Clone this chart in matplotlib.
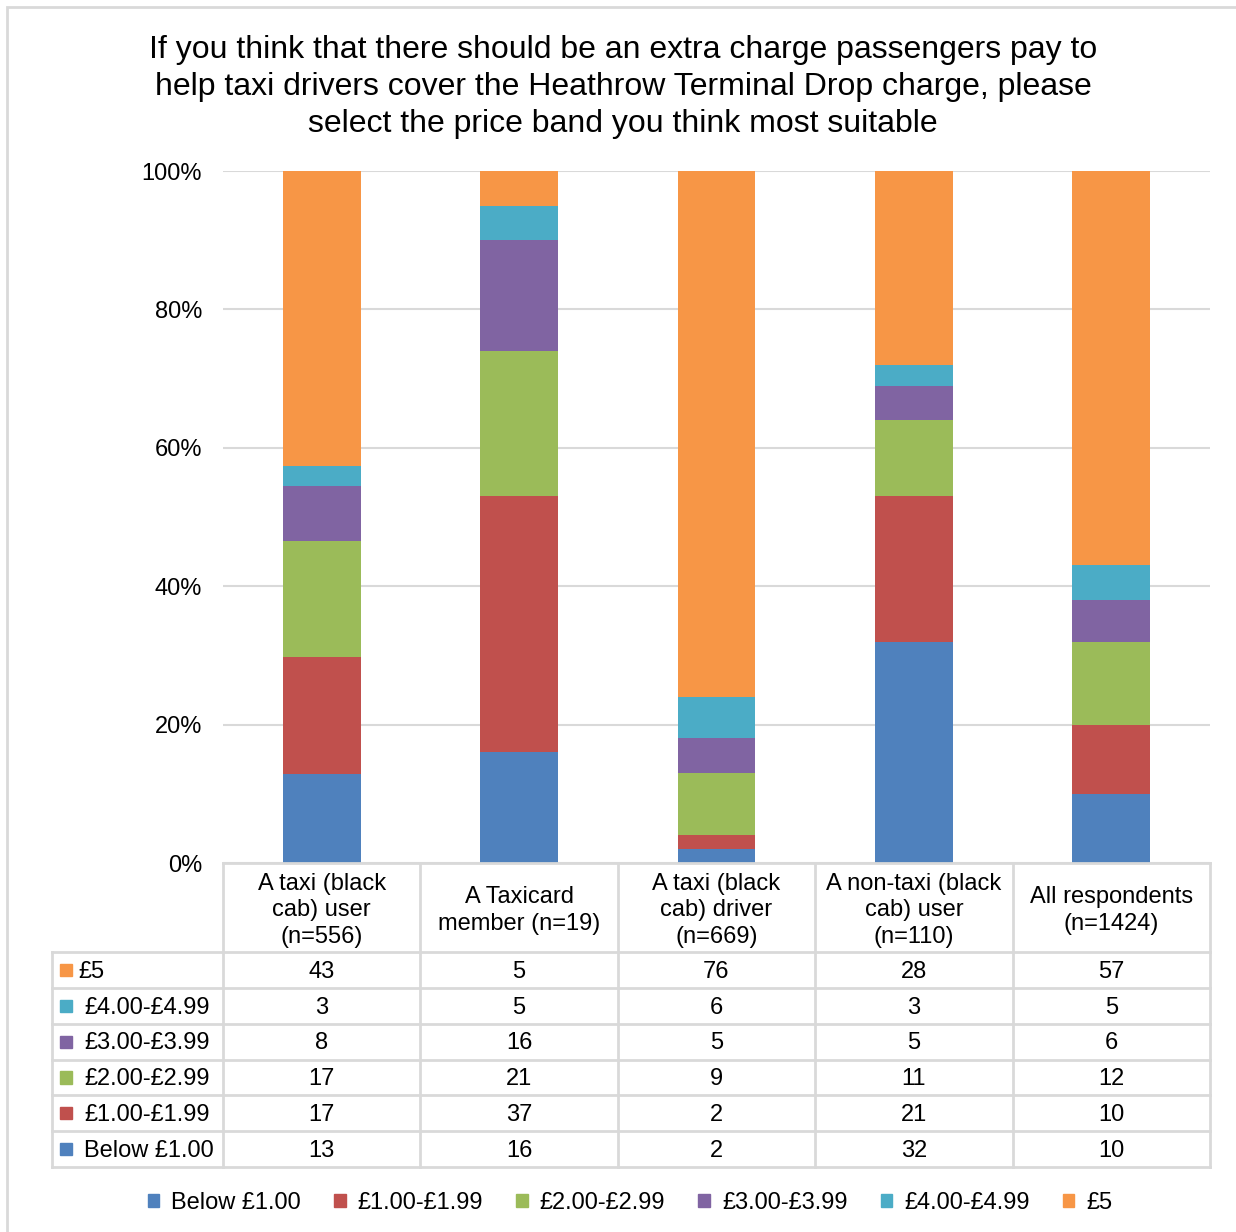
import matplotlib.pyplot as plt
from matplotlib.patches import Patch, Rectangle

plt.rcParams['font.family'] = ['Liberation Sans', 'DejaVu Sans']

# chart data (percent of respondents)
groups = ["A taxi (black\ncab) user\n(n=556)", "A Taxicard\nmember (n=19)",
          "A taxi (black\ncab) driver\n(n=669)", "A non-taxi (black\ncab) user\n(n=110)",
          "All respondents\n(n=1424)"]
bands = ["Below £1.00", "£1.00-£1.99", "£2.00-£2.99", "£3.00-£3.99", "£4.00-£4.99", "£5"]
below_1 = [13, 16, 2, 32, 10]
from_1 = [17, 37, 2, 21, 10]
from_2 = [17, 21, 9, 11, 12]
from_3 = [8, 16, 5, 5, 6]
from_4 = [3, 5, 6, 3, 5]
five = [43, 5, 76, 28, 57]
series = [below_1, from_1, from_2, from_3, from_4, five]
colors = ["#4F81BD", "#C0504D", "#9BBB59", "#8064A2", "#4BACC6", "#F79646"]
yticks = [0, 20, 40, 60, 80, 100]

W, H = 1236, 1232
fig = plt.figure(figsize=(W / 100, H / 100), dpi=100)


def box(x0, y0, x1, y1):
    # pixel box (top-left origin) -> figure rect
    return [x0 / W, 1 - y1 / H, (x1 - x0) / W, (y1 - y0) / H]


grid_c = "#D9D9D9"
fs = 17

# outer chart border
fig.patches.append(Rectangle((7 / W, -0.01), 1.2, 1 - 7 / H + 0.01, transform=fig.transFigure,
                             fill=False, edgecolor=grid_c, lw=2))

fig.text(623 / W, 1 - 87 / H,
         "If you think that there should be an extra charge passengers pay to\n"
         "help taxi drivers cover the Heathrow Terminal Drop charge, please\n"
         "select the price band you think most suitable",
         ha="center", va="center", fontsize=23, linespacing=1.3)

# bars
ax = fig.add_axes(box(223, 171, 1210, 863))
n = len(groups)
totals = [sum(s[i] for s in series) for i in range(n)]
bottom = [0.0] * n
for vals, c, lab in zip(series, colors, bands):
    pct = [v / t * 100 for v, t in zip(vals, totals)]
    ax.bar(range(n), pct, bottom=bottom, width=0.395, color=c, label=lab, zorder=2)
    bottom = [b + p for b, p in zip(bottom, pct)]

ax.set_xlim(-0.5, n - 0.5)
ax.set_ylim(0, 100)
ax.set_yticks(yticks)
ax.set_yticklabels([f"{t}%" for t in yticks], fontsize=fs)
ax.tick_params(axis="y", length=0, pad=15)
ax.set_xticks([])
ax.grid(axis="y", color=grid_c, lw=1.5, zorder=0)
for s in ax.spines.values():
    s.set_visible(False)

# data table
col_w = (1210 - 223) / n
lab_w = (223 - 52) / col_w
head_h = 89 / 35.8
tax = fig.add_axes(box(52, 863, 1210, 1167))
tax.set_xlim(-0.5 - lab_w, n - 0.5)
tax.set_ylim(head_h + len(bands), 0)
tax.axis("off")
lk = dict(color=grid_c, lw=2, solid_capstyle="projecting", clip_on=False)
tax.plot([-0.5, n - 0.5], [0, 0], **lk)
for k in range(len(bands) + 1):
    tax.plot([-0.5 - lab_w, n - 0.5], [head_h + k] * 2, **lk)
for j in range(n + 1):
    tax.plot([j - 0.5] * 2, [0, head_h + len(bands)], **lk)
tax.plot([-0.5 - lab_w] * 2, [head_h, head_h + len(bands)], **lk)

for j, g in enumerate(groups):
    tax.text(j, head_h / 2 + 0.08, g, ha="center", va="center", fontsize=fs, linespacing=1.28)

px = lab_w / 171  # data units per pixel in x
for r, k in enumerate(range(len(bands) - 1, -1, -1)):
    y = head_h + r + 0.5
    x0 = -0.5 - lab_w
    tax.add_patch(Rectangle((x0 + 8 * px, y - 0.17), 12 * px, 0.34, color=colors[k], clip_on=False))
    tx = x0 + (26 if k == len(bands) - 1 else 32) * px
    tax.text(tx, y + 0.05, bands[k], ha="left", va="center", fontsize=fs)
    for j in range(n):
        tax.text(j, y + 0.05, str(series[k][j]), ha="center", va="center", fontsize=fs)

handles = [Patch(color=c, label=b) for c, b in zip(colors, bands)]
fig.legend(handles=handles, loc="center", bbox_to_anchor=(630 / W, 1 - 1203 / H), ncol=6,
           frameon=False, fontsize=fs, handlelength=0.5, handleheight=0.5,
           handletextpad=0.5, columnspacing=1.4)

fig.savefig("out.png", dpi=100)
